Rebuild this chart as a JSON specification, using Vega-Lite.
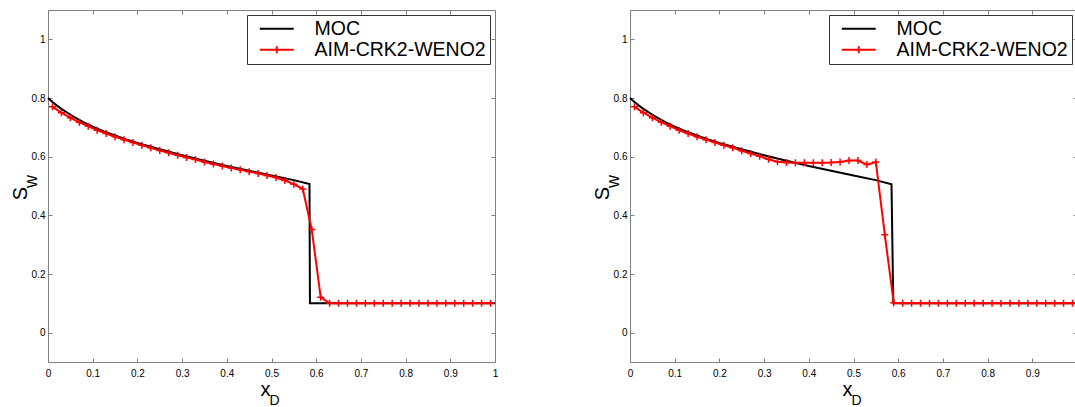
{
  "$schema": "https://vega.github.io/schema/vega-lite/v6.json",
  "padding": {"left": 9, "top": 9, "right": 0, "bottom": 0},
  "datasets": {
    "moc_left": [
      {"i": 0, "x": 0, "sw": 0.8}, {"i": 1, "x": 0.01, "sw": 0.786}, {"i": 2, "x": 0.02, "sw": 0.774},
      {"i": 3, "x": 0.03, "sw": 0.763}, {"i": 4, "x": 0.045, "sw": 0.748}, {"i": 5, "x": 0.06, "sw": 0.734},
      {"i": 6, "x": 0.08, "sw": 0.717}, {"i": 7, "x": 0.1, "sw": 0.702}, {"i": 8, "x": 0.125, "sw": 0.686},
      {"i": 9, "x": 0.15, "sw": 0.672}, {"i": 10, "x": 0.175, "sw": 0.659}, {"i": 11, "x": 0.2, "sw": 0.647},
      {"i": 12, "x": 0.25, "sw": 0.625}, {"i": 13, "x": 0.3, "sw": 0.605}, {"i": 14, "x": 0.35, "sw": 0.586},
      {"i": 15, "x": 0.4, "sw": 0.568}, {"i": 16, "x": 0.45, "sw": 0.552}, {"i": 17, "x": 0.5, "sw": 0.536},
      {"i": 18, "x": 0.55, "sw": 0.52}, {"i": 19, "x": 0.585, "sw": 0.507}, {"i": 20, "x": 0.586, "sw": 0.1},
      {"i": 21, "x": 1.0, "sw": 0.1}
    ],
    "moc_right": [
      {"i": 0, "x": 0, "sw": 0.8}, {"i": 1, "x": 0.01, "sw": 0.786}, {"i": 2, "x": 0.02, "sw": 0.774},
      {"i": 3, "x": 0.03, "sw": 0.763}, {"i": 4, "x": 0.045, "sw": 0.748}, {"i": 5, "x": 0.06, "sw": 0.734},
      {"i": 6, "x": 0.08, "sw": 0.717}, {"i": 7, "x": 0.1, "sw": 0.702}, {"i": 8, "x": 0.125, "sw": 0.686},
      {"i": 9, "x": 0.15, "sw": 0.672}, {"i": 10, "x": 0.175, "sw": 0.659}, {"i": 11, "x": 0.2, "sw": 0.647},
      {"i": 12, "x": 0.25, "sw": 0.625}, {"i": 13, "x": 0.3, "sw": 0.605}, {"i": 14, "x": 0.35, "sw": 0.586},
      {"i": 15, "x": 0.4, "sw": 0.568}, {"i": 16, "x": 0.45, "sw": 0.552}, {"i": 17, "x": 0.5, "sw": 0.536},
      {"i": 18, "x": 0.55, "sw": 0.52}, {"i": 19, "x": 0.585, "sw": 0.506}, {"i": 20, "x": 0.589, "sw": 0.1},
      {"i": 21, "x": 1.0, "sw": 0.1}
    ],
    "crk_left": [
      {"x": 0.01, "sw": 0.77}, {"x": 0.03, "sw": 0.75}, {"x": 0.05, "sw": 0.733}, {"x": 0.07, "sw": 0.717},
      {"x": 0.09, "sw": 0.704}, {"x": 0.11, "sw": 0.69}, {"x": 0.13, "sw": 0.679}, {"x": 0.15, "sw": 0.668},
      {"x": 0.17, "sw": 0.658}, {"x": 0.19, "sw": 0.648}, {"x": 0.21, "sw": 0.639}, {"x": 0.23, "sw": 0.63},
      {"x": 0.25, "sw": 0.621}, {"x": 0.27, "sw": 0.613}, {"x": 0.29, "sw": 0.605}, {"x": 0.31, "sw": 0.597},
      {"x": 0.33, "sw": 0.59}, {"x": 0.35, "sw": 0.582}, {"x": 0.37, "sw": 0.575}, {"x": 0.39, "sw": 0.568},
      {"x": 0.41, "sw": 0.561}, {"x": 0.43, "sw": 0.555}, {"x": 0.45, "sw": 0.549}, {"x": 0.47, "sw": 0.543},
      {"x": 0.49, "sw": 0.536}, {"x": 0.51, "sw": 0.529}, {"x": 0.53, "sw": 0.519}, {"x": 0.55, "sw": 0.506},
      {"x": 0.57, "sw": 0.49}, {"x": 0.59, "sw": 0.352}, {"x": 0.61, "sw": 0.121}, {"x": 0.63, "sw": 0.1},
      {"x": 0.65, "sw": 0.1}, {"x": 0.67, "sw": 0.1}, {"x": 0.69, "sw": 0.1}, {"x": 0.71, "sw": 0.1},
      {"x": 0.73, "sw": 0.1}, {"x": 0.75, "sw": 0.1}, {"x": 0.77, "sw": 0.1}, {"x": 0.79, "sw": 0.1},
      {"x": 0.81, "sw": 0.1}, {"x": 0.83, "sw": 0.1}, {"x": 0.85, "sw": 0.1}, {"x": 0.87, "sw": 0.1},
      {"x": 0.89, "sw": 0.1}, {"x": 0.91, "sw": 0.1}, {"x": 0.93, "sw": 0.1}, {"x": 0.95, "sw": 0.1},
      {"x": 0.97, "sw": 0.1}, {"x": 0.99, "sw": 0.1}
    ],
    "crk_right": [
      {"x": 0.01, "sw": 0.77}, {"x": 0.03, "sw": 0.75}, {"x": 0.05, "sw": 0.733}, {"x": 0.07, "sw": 0.717},
      {"x": 0.09, "sw": 0.704}, {"x": 0.11, "sw": 0.69}, {"x": 0.13, "sw": 0.679}, {"x": 0.15, "sw": 0.668},
      {"x": 0.17, "sw": 0.658}, {"x": 0.19, "sw": 0.648}, {"x": 0.21, "sw": 0.639}, {"x": 0.23, "sw": 0.63},
      {"x": 0.25, "sw": 0.62}, {"x": 0.27, "sw": 0.611}, {"x": 0.29, "sw": 0.601}, {"x": 0.31, "sw": 0.591},
      {"x": 0.33, "sw": 0.583}, {"x": 0.35, "sw": 0.58}, {"x": 0.37, "sw": 0.579}, {"x": 0.39, "sw": 0.579},
      {"x": 0.41, "sw": 0.579}, {"x": 0.43, "sw": 0.579}, {"x": 0.45, "sw": 0.58}, {"x": 0.47, "sw": 0.582},
      {"x": 0.49, "sw": 0.587}, {"x": 0.51, "sw": 0.587}, {"x": 0.53, "sw": 0.573}, {"x": 0.55, "sw": 0.582},
      {"x": 0.57, "sw": 0.334}, {"x": 0.59, "sw": 0.102}, {"x": 0.61, "sw": 0.1}, {"x": 0.63, "sw": 0.1},
      {"x": 0.65, "sw": 0.1}, {"x": 0.67, "sw": 0.1}, {"x": 0.69, "sw": 0.1}, {"x": 0.71, "sw": 0.1},
      {"x": 0.73, "sw": 0.1}, {"x": 0.75, "sw": 0.1}, {"x": 0.77, "sw": 0.1}, {"x": 0.79, "sw": 0.1},
      {"x": 0.81, "sw": 0.1}, {"x": 0.83, "sw": 0.1}, {"x": 0.85, "sw": 0.1}, {"x": 0.87, "sw": 0.1},
      {"x": 0.89, "sw": 0.1}, {"x": 0.91, "sw": 0.1}, {"x": 0.93, "sw": 0.1}, {"x": 0.95, "sw": 0.1},
      {"x": 0.97, "sw": 0.1}, {"x": 0.99, "sw": 0.1}
    ]
  },
  "hconcat": [
    {
      "width": 447, "height": 352,
      "layer": [
        {
          "data": {"name": "moc_left"},
          "mark": {"type": "line", "strokeWidth": 2},
          "encoding": {
            "x": {"field": "x", "type": "quantitative", "scale": {"domain": [0, 1], "nice": false, "zero": false},
              "axis": {"orient": "bottom", "values": [0, 0.1, 0.2, 0.3, 0.4, 0.5, 0.6, 0.7, 0.8, 0.9, 1], "format": "~g",
                "labelFlush": false, "labelPadding": 10, "tickSize": -4,
                "title": "x", "titleFontSize": 20, "titleX": 217, "titleY": 33, "titleAlign": "center", "titleBaseline": "alphabetic"}},
            "y": {"field": "sw", "type": "quantitative", "scale": {"domain": [-0.1, 1.1], "nice": false, "zero": false},
              "axis": {"orient": "left", "values": [0, 0.2, 0.4, 0.6, 0.8, 1], "format": "~g",
                "labelFlush": false, "labelPadding": 7, "tickSize": -4,
                "title": "S", "titleFontSize": 20, "titleX": -22, "titleY": 183, "titleAlign": "center", "titleBaseline": "alphabetic"}},
            "order": {"field": "i"},
            "color": {"datum": "MOC", "type": "nominal",
              "scale": {"domain": ["MOC", "AIM-CRK2-WENO2"], "range": ["#000000", "#ff0000"]},
              "legend": {"encode": {"symbols": {"update": {"shape": {"signal": "datum.value === 'MOC' ? 'M-3,0H3' : 'M-3,0H3M0,-0.6V0.6'"}}}}}}
          }
        },
        {
          "data": {"name": "crk_left"},
          "mark": {"type": "line", "strokeWidth": 2},
          "encoding": {
            "x": {"field": "x", "type": "quantitative",
              "axis": {"orient": "top", "values": [0, 0.1, 0.2, 0.3, 0.4, 0.5, 0.6, 0.7, 0.8, 0.9, 1], "labels": false, "tickSize": -4, "title": null}},
            "y": {"field": "sw", "type": "quantitative",
              "axis": {"orient": "right", "values": [0, 0.2, 0.4, 0.6, 0.8, 1], "labels": false, "tickSize": -4, "title": null}},
            "color": {"datum": "AIM-CRK2-WENO2", "type": "nominal"}
          }
        },
        {
          "data": {"name": "crk_left"},
          "mark": {"type": "point", "shape": "M-1,0H1M0,-1V1", "size": 49, "strokeWidth": 1.5, "filled": false, "opacity": 1},
          "encoding": {
            "x": {"field": "x", "type": "quantitative",
              "axis": {"orient": "bottom", "labels": false, "ticks": false, "title": "D", "titleFontSize": 14,
                "titleX": 226, "titleY": 42, "titleAlign": "center", "titleBaseline": "alphabetic"}},
            "y": {"field": "sw", "type": "quantitative",
              "axis": {"orient": "left", "labels": false, "ticks": false, "title": "w", "titleFontSize": 18,
                "titleX": -12, "titleY": 171, "titleAlign": "center", "titleBaseline": "alphabetic"}},
            "color": {"datum": "AIM-CRK2-WENO2", "type": "nominal"}
          }
        }
      ],
      "resolve": {"axis": {"x": "independent", "y": "independent"}}
    },
    {
      "width": 447, "height": 352,
      "layer": [
        {
          "data": {"name": "moc_right"},
          "mark": {"type": "line", "strokeWidth": 2},
          "encoding": {
            "x": {"field": "x", "type": "quantitative", "scale": {"domain": [0, 1], "nice": false, "zero": false},
              "axis": {"orient": "bottom", "values": [0, 0.1, 0.2, 0.3, 0.4, 0.5, 0.6, 0.7, 0.8, 0.9], "format": "~g",
                "labelFlush": false, "labelPadding": 10, "tickSize": -4,
                "title": "x", "titleFontSize": 20, "titleX": 217, "titleY": 33, "titleAlign": "center", "titleBaseline": "alphabetic"}},
            "y": {"field": "sw", "type": "quantitative", "scale": {"domain": [-0.1, 1.1], "nice": false, "zero": false},
              "axis": {"orient": "left", "values": [0, 0.2, 0.4, 0.6, 0.8, 1], "format": "~g",
                "labelFlush": false, "labelPadding": 7, "tickSize": -4,
                "title": "S", "titleFontSize": 20, "titleX": -22, "titleY": 183, "titleAlign": "center", "titleBaseline": "alphabetic"}},
            "order": {"field": "i"},
            "color": {"datum": "MOC", "type": "nominal",
              "scale": {"domain": ["MOC", "AIM-CRK2-WENO2"], "range": ["#000000", "#ff0000"]},
              "legend": {"encode": {"symbols": {"update": {"shape": {"signal": "datum.value === 'MOC' ? 'M-3,0H3' : 'M-3,0H3M0,-0.6V0.6'"}}}}}}
          }
        },
        {
          "data": {"name": "crk_right"},
          "mark": {"type": "line", "strokeWidth": 2},
          "encoding": {
            "x": {"field": "x", "type": "quantitative",
              "axis": {"orient": "top", "values": [0, 0.1, 0.2, 0.3, 0.4, 0.5, 0.6, 0.7, 0.8, 0.9, 1], "labels": false, "tickSize": -4, "title": null}},
            "y": {"field": "sw", "type": "quantitative",
              "axis": {"orient": "right", "values": [0, 0.2, 0.4, 0.6, 0.8, 1], "labels": false, "tickSize": -4, "title": null}},
            "color": {"datum": "AIM-CRK2-WENO2", "type": "nominal"}
          }
        },
        {
          "data": {"name": "crk_right"},
          "mark": {"type": "point", "shape": "M-1,0H1M0,-1V1", "size": 49, "strokeWidth": 1.5, "filled": false, "opacity": 1},
          "encoding": {
            "x": {"field": "x", "type": "quantitative",
              "axis": {"orient": "bottom", "labels": false, "ticks": false, "title": "D", "titleFontSize": 14,
                "titleX": 226, "titleY": 42, "titleAlign": "center", "titleBaseline": "alphabetic"}},
            "y": {"field": "sw", "type": "quantitative",
              "axis": {"orient": "left", "labels": false, "ticks": false, "title": "w", "titleFontSize": 18,
                "titleX": -12, "titleY": 171, "titleAlign": "center", "titleBaseline": "alphabetic"}},
            "color": {"datum": "AIM-CRK2-WENO2", "type": "nominal"}
          }
        }
      ],
      "resolve": {"axis": {"x": "independent", "y": "independent"}}
    }
  ],
  "spacing": 91,
  "resolve": {"scale": {"color": "independent"}, "legend": {"color": "independent"}},
  "config": {
    "font": "Liberation Sans",
    "view": {"stroke": "#808080", "strokeWidth": 1},
    "axis": {
      "grid": false, "domain": false,
      "tickColor": "#808080", "tickWidth": 1,
      "labelFont": "Liberation Sans", "labelFontSize": 10, "labelColor": "#000000",
      "titleFont": "Liberation Sans", "titleFontWeight": "normal", "titleColor": "#000000"
    },
    "legend": {
      "orient": "none", "legendX": 199, "legendY": 5, "title": null,
      "fillColor": "#ffffff", "strokeColor": "#333333", "padding": 4,
      "labelFont": "Liberation Sans", "labelFontSize": 19.5, "labelColor": "#000000", "labelLimit": 0,
      "symbolSize": 128, "symbolStrokeWidth": 2, "symbolType": "stroke",
      "symbolOffset": 16, "labelOffset": 28, "rowPadding": 0
    }
  }
}
